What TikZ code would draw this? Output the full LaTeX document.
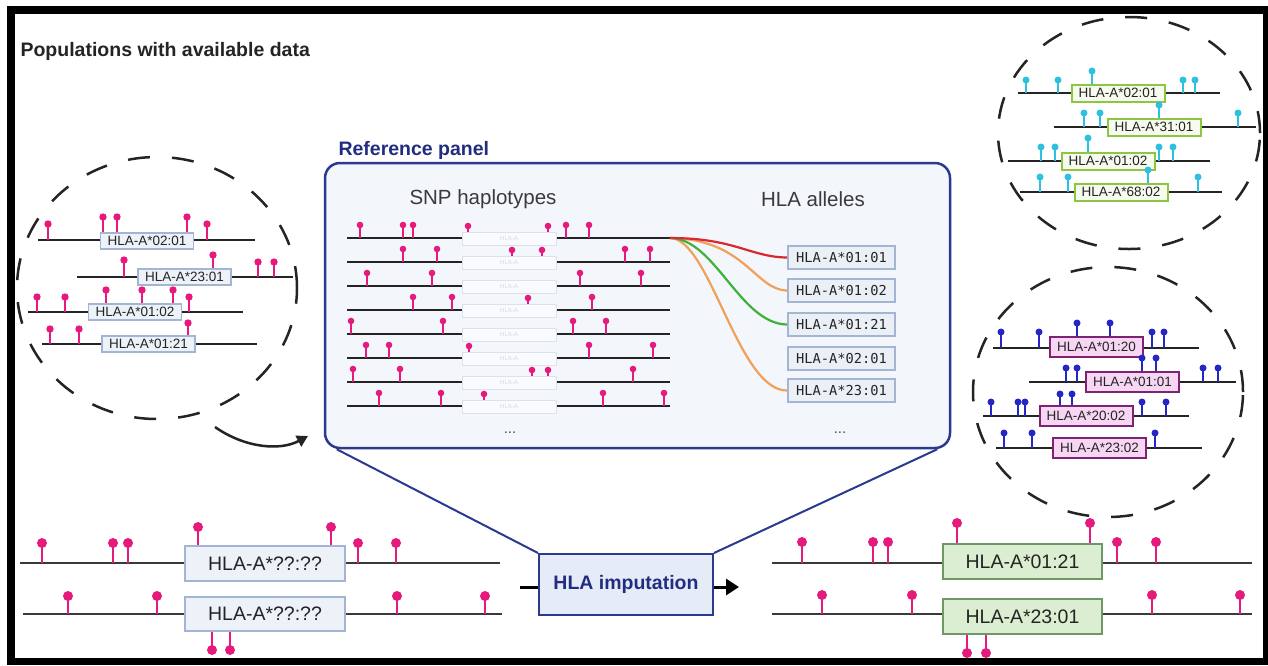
\documentclass[tikz,border=0pt]{standalone}
\usepackage{fontspec}
\setmainfont{Liberation Sans}
\newfontfamily\allelemono{DejaVu Sans Mono}
\usetikzlibrary{arrows.meta,calc}

\definecolor{pinpink}{HTML}{E6197D}
\definecolor{pincyan}{HTML}{2DC0DF}
\definecolor{pinblue}{HTML}{2626C4}
\definecolor{navy}{HTML}{222D80}
\definecolor{navyedge}{HTML}{2B3990}
\definecolor{panelfill}{HTML}{F3F6FB}
\definecolor{hapcol}{HTML}{242424}
\definecolor{bluefill}{HTML}{EDF1F8}
\definecolor{blueedge}{HTML}{A4B4D3}
\definecolor{greenfill}{HTML}{DBEED1}
\definecolor{greenedge}{HTML}{6F9866}
\definecolor{limeedge}{HTML}{8DC63F}
\definecolor{limefill}{HTML}{F6FAEF}
\definecolor{pinkfill}{HTML}{F6D6F3}
\definecolor{plumedge}{HTML}{7E2372}
\definecolor{impfill}{HTML}{E5ECF8}
\definecolor{ghostfill}{HTML}{F8FAFD}
\definecolor{ghostedge}{HTML}{DCE2EB}
\definecolor{ghosttext}{HTML}{D3D9E2}
\definecolor{curvered}{HTML}{D9282F}
\definecolor{curveorange}{HTML}{EFA15A}
\definecolor{curvegreen}{HTML}{3DB13A}

% a row of SNP markers: colour, head radius, base y, list of x/head-y
\newcommand\pinrow[4]{%
  \foreach \px/\py in {#4}{%
    \draw[#1, line width=2pt] (\px,#3) -- (\px,\py);
    \fill[#1] (\px,\py) circle (#2);}}

\begin{document}
\begin{tikzpicture}[x=1pt,y=-1pt,
  hap/.style={draw=hapcol, line width=2.5pt},
  hapbottom/.style={draw=hapcol!90, line width=2pt},
  circdash/.style={draw=hapcol, line width=2.5pt, dash pattern=on 22pt off 22pt},
  smallbox/.style={minimum width=93pt, minimum height=16pt, inner sep=0pt,
    font=\fontsize{13.5}{14}\selectfont, text=hapcol},
  lbox/.style={smallbox, fill=bluefill, draw=blueedge, line width=1.6pt},
  tbox/.style={smallbox, minimum height=17pt, fill=limefill, draw=limeedge, line width=2pt},
  pbox/.style={smallbox, minimum height=20pt, fill=pinkfill, draw=plumedge, line width=2pt},
  bigbox/.style={minimum width=160pt, minimum height=35pt, inner sep=0pt,
    font=\fontsize{19.5}{22}\selectfont, text=hapcol},
  qbox/.style={bigbox, fill=bluefill, draw=blueedge, line width=1.6pt},
  gbox/.style={bigbox, fill=greenfill, draw=greenedge, line width=2pt},
  allele/.style={minimum width=107pt, minimum height=23pt, inner sep=0pt,
    fill=bluefill!80!blueedge!60, draw=blueedge, line width=2pt,
    font=\allelemono\fontsize{13.7}{14}\selectfont, text=hapcol},
  ghost/.style={minimum width=94pt, minimum height=13pt, inner sep=0pt,
    fill=ghostfill, draw=ghostedge, line width=0.8pt,
    font=\fontsize{6}{6}\selectfont, text=ghosttext},
  heading/.style={font=\fontsize{20.5}{22}\selectfont, text=hapcol!90},
  curve/.style={line width=2.2pt}
]
\useasboundingbox (0,0) rectangle (1268,665);
% frame
\fill[white] (0,0) rectangle (1268,665);
\fill[black] (7,6) rectangle (1268,665);
\fill[white] (15,14) rectangle (1263,658);

\node[anchor=west, font=\bfseries\fontsize{19.5}{22}\selectfont, text=hapcol] (title)
  at (17,51) {Populations with available data};

% ---------- population with pink markers ----------
\draw[circdash] (157,288) ellipse [x radius=140pt, y radius=131pt];
\draw[hap] (38,240) -- (255,240);
\pinrow{pinpink}{3.7pt}{240}{48/224,103/217,117/217,187/217,207/224}
\node[lbox] (lA) at (147,241) {HLA-A*02:01};
\draw[hap] (77,277) -- (293,277);
\pinrow{pinpink}{3.7pt}{277}{124/260,213/255,258/262,274/262}
\node[lbox] (lB) at (184.5,277) {HLA-A*23:01};
\draw[hap] (28,312) -- (243,312);
\pinrow{pinpink}{3.7pt}{312}{37/297,65/297,106/290,142/290,173/290,189/297}
\node[lbox] (lC) at (135,312) {HLA-A*01:02};
\draw[hap] (42,344) -- (257,344);
\pinrow{pinpink}{3.7pt}{344}{50/329,79/329,188/323}
\node[lbox] (lD) at (148.5,344) {HLA-A*01:21};

\coordinate (feedS) at (215,427);
\coordinate (feedE) at (308,436);
\draw[hapcol, line width=2.5pt, -{Triangle[length=11pt,width=12pt]}]
  (feedS) .. controls (245,448) and (280,451) .. (feedE);

% ---------- population with cyan markers ----------
\draw[circdash] (1129,133) ellipse [x radius=131pt, y radius=116pt];
\draw[hap] (1018,93) -- (1220,93);
\pinrow{pincyan}{3.5pt}{93}{1026/80,1058/80,1092/71,1183/80,1195/80}
\node[tbox] (tA) at (1118,93) {HLA-A*02:01};
\draw[hap] (1054,127) -- (1256,127);
\pinrow{pincyan}{3.5pt}{127}{1084/113,1100/113,1159/105,1238/113}
\node[tbox] (tB) at (1154,127) {HLA-A*31:01};
\draw[hap] (1008,161) -- (1210,161);
\pinrow{pincyan}{3.5pt}{161}{1041/147,1055/147,1088/138,1159/147,1173/147}
\node[tbox] (tC) at (1108,161) {HLA-A*01:02};
\draw[hap] (1020,192) -- (1222,192);
\pinrow{pincyan}{3.5pt}{192}{1040/177,1068/177,1148/170,1198/177}
\node[tbox] (tD) at (1121,192) {HLA-A*68:02};

% ---------- population with blue markers ----------
\draw[circdash] (1108,392) ellipse [x radius=135pt, y radius=125pt];
\draw[hap] (993,348) -- (1199,348);
\pinrow{pinblue}{3.5pt}{348}{1001/332,1039/332,1077/323,1110/323,1152/332,1164/332}
\node[pbox] (pA) at (1096.5,347) {HLA-A*01:20};
\draw[hap] (1029,382) -- (1236,382);
\pinrow{pinblue}{3.5pt}{382}{1066/368,1077/368,1142/358,1156/358,1203/368,1218/368}
\node[pbox] (pB) at (1132.5,382) {HLA-A*01:01};
\draw[hap] (983,416) -- (1189,416);
\pinrow{pinblue}{3.5pt}{416}{991/402,1018/402,1025/402,1060/394,1072/394,1142/402,1166/402}
\node[pbox] (pC) at (1086,416) {HLA-A*20:02};
\draw[hap] (996,448) -- (1202,448);
\pinrow{pinblue}{3.5pt}{448}{1004/433,1032/433,1155/433}
\node[pbox] (pD) at (1099.5,448) {HLA-A*23:02};

% ---------- reference panel ----------
\node[anchor=west, font=\bfseries\fontsize{19.5}{22}\selectfont, text=navy] (reftitle)
  at (335,150) {Reference panel};
\node[draw=navyedge, line width=2.5pt, fill=panelfill, rounded corners=15pt,
  minimum width=625pt, minimum height=285pt, inner sep=0pt] (panel) at (637.5,305.5) {};
\node[heading] (snphead) at (483,199) {SNP haplotypes};
\node[heading] (hlahead) at (813,199) {HLA alleles};

\foreach \ry [count=\k] in {238,262,286,310,334,358,382,406}{
  \draw[hap] (347,\ry) -- (670,\ry);
}
\pinrow{pinpink}{3.3pt}{238}{360/225,403/225,413/225,468/226,548/226,566/225,589/225}
\pinrow{pinpink}{3.3pt}{262}{403/249,437/249,512/250,542/250,625/249,650/249}
\pinrow{pinpink}{3.3pt}{286}{367/273,432/273,580/273,641/273}
\pinrow{pinpink}{3.3pt}{310}{413/297,452/297,528/298,592/297}
\pinrow{pinpink}{3.3pt}{334}{351/321,443/321,573/321,606/321}
\pinrow{pinpink}{3.3pt}{358}{366/345,389/345,469/346,589/345,653/345}
\pinrow{pinpink}{3.3pt}{382}{353/369,400/369,532/370,548/370,633/369}
\pinrow{pinpink}{3.3pt}{406}{379/393,441/393,484/394,603/393,664/393}
\foreach \ry [count=\k] in {238,262,286,310,334,358,382,406}{
  \node[ghost] (ghost\k) at (509,\ry+0.5) {HLA-A};
}
\coordinate (rowend) at (670,238);

\node[allele] (a1) at (841.5,257.5) {HLA-A*01:01};
\node[allele] (a2) at (841.5,290.5) {HLA-A*01:02};
\node[allele] (a3) at (841.5,324.5) {HLA-A*01:21};
\node[allele] (a4) at (841.5,358.5) {HLA-A*02:01};
\node[allele] (a5) at (841.5,390.5) {HLA-A*23:01};

\draw[curve, curveorange] (rowend) .. controls (710,238) and (738,391) .. (a5.west);
\draw[curve, curveorange] (rowend) .. controls (745,239) and (755,290) .. (a2.west);
\draw[curve, curvegreen] (rowend) .. controls (715,238) and (740,324) .. (a3.west);
\draw[curve, curvered] (rowend) .. controls (735,238) and (750,257) .. (a1.west);

\node[font=\fontsize{15}{15}\selectfont, text=hapcol!80] (dotsL) at (510,433) {...};
\node[font=\fontsize{15}{15}\selectfont, text=hapcol!80] (dotsR) at (840,433) {...};

% ---------- imputation step ----------
\node[draw=navyedge, line width=2pt, fill=impfill, minimum width=174pt, minimum height=61pt,
  inner sep=0pt, font=\bfseries\fontsize{19.5}{22}\selectfont, text=navy] (imp)
  at (626,584.5) {HLA imputation};
\draw[navyedge, line width=2pt] ($(panel.south west)+(13,0)$) -- (imp.north west);
\draw[navyedge, line width=2pt] ($(panel.south east)+(-14,0)$) -- (imp.north east);

\coordinate (stub) at (520,587);
\coordinate (outtip) at (739,587);
\draw[black, line width=3pt] (stub) -- (imp.west |- stub);
\draw[black, line width=3pt, -{Triangle[length=13pt,width=16pt]}] (imp.east |- outtip) -- (outtip);

% ---------- target haplotypes, before ----------
\draw[hapbottom] (20,563) -- (500,563);
\pinrow{pinpink}{5pt}{563}{42/543,113/543,128/543,198/527,331/527,358/543,396/543}
\node[qbox] (qA) at (265,563.5) {HLA-A*??:??};
\draw[hapbottom] (23,614) -- (502,614);
\pinrow{pinpink}{5pt}{614}{68/596,157/596,397/596,485/596,212/650,230/650}
\node[qbox, minimum height=34pt] (qB) at (265,614) {HLA-A*??:??};

% ---------- target haplotypes, after ----------
\draw[hapbottom] (772,563) -- (1252,563);
\pinrow{pinpink}{5pt}{563}{802/542,873/542,888/542,957/523,1090/523,1117/542,1156/542}
\node[gbox, minimum width=159pt] (gA) at (1022.5,561.5) {HLA-A*01:21};
\draw[hapbottom] (772,614) -- (1252,614);
\pinrow{pinpink}{5pt}{614}{822/595,912/595,1152/595,1240/595,967/653,986/653}
\node[gbox, minimum width=159pt] (gB) at (1022.5,616.5) {HLA-A*23:01};
\end{tikzpicture}
\end{document}
